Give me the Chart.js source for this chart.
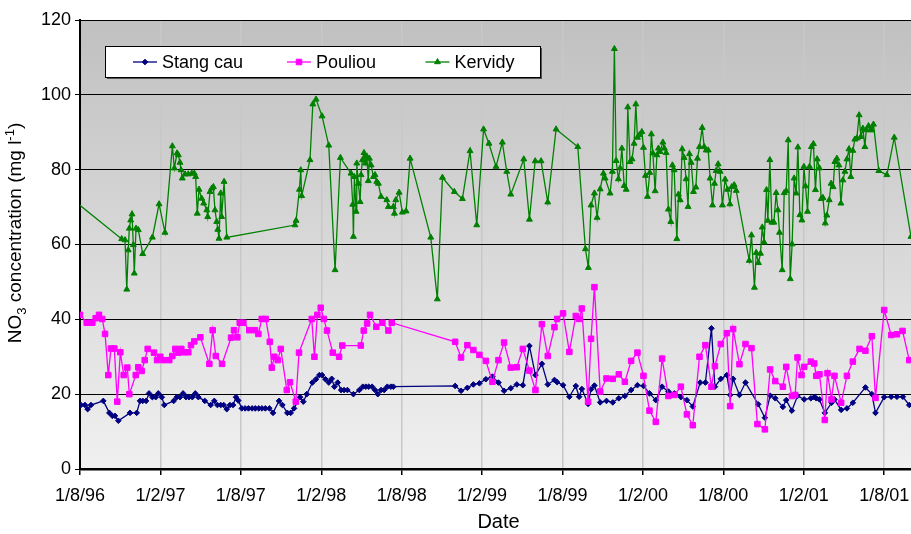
<!DOCTYPE html>
<html>
<head>
<meta charset="utf-8">
<title>NO3 concentration</title>
<script src="https://cdn.jsdelivr.net/npm/chart.js@4/dist/chart.umd.min.js"></script>
<style>
  html, body { margin: 0; padding: 0; background: #fff; }
  canvas { display: block; }
</style>
</head>
<body>
<canvas id="chart" width="911" height="534"></canvas>
<script>
// x values are months elapsed since 1 August 1996; y values are NO3 in mg/l
const tickMonths = [0, 6, 12, 18, 24, 30, 36, 42, 48, 54, 60];
const tickLabels = ['1/8/96', '1/2/97', '1/8/97', '1/2/98', '1/8/98', '1/2/99',
                    '1/8/99', '1/2/00', '1/8/00', '1/2/01', '1/8/01'];
const yTicks = { min: 0, max: 120, step: 20 };
const seriesNames = ['Stang cau', 'Pouliou', 'Kervidy'];
const xTitle = 'Date';

const stangCau = [
  [0.07,17.1],[0.37,17.1],[0.57,16.0],[0.82,17.1],[1.74,18.2],[2.19,15.0],[2.41,14.2],[2.61,14.2],
  [2.86,12.9],[3.73,15.0],[4.23,15.0],[4.48,18.2],[4.68,18.2],[4.93,18.2],[5.15,20.2],[5.40,19.2],
  [5.65,19.2],[5.84,20.2],[6.10,19.2],[6.29,17.1],[6.99,18.2],[7.22,19.2],[7.46,19.2],[7.69,20.2],
  [7.91,19.2],[8.13,19.2],[8.38,19.2],[8.60,20.2],[8.83,19.2],[9.31,18.2],[9.75,17.1],[10.02,18.2],
  [10.25,17.1],[10.50,17.1],[10.72,17.1],[10.95,16.0],[11.19,17.1],[11.42,17.1],[11.64,19.2],[11.81,18.3],
  [12.07,16.2],[12.32,16.2],[12.57,16.2],[12.84,16.2],[13.08,16.2],[13.34,16.2],[13.58,16.2],[13.83,16.2],
  [14.13,16.2],[14.40,15.0],[14.85,18.2],[15.10,17.1],[15.47,15.0],[15.72,15.0],[15.97,16.2],[16.42,19.2],
  [16.66,18.0],[16.92,20.0],[17.34,23.1],[17.61,24.0],[17.86,25.1],[18.06,25.1],[18.31,24.0],[18.56,23.1],
  [18.78,24.1],[18.98,22.0],[19.23,23.1],[19.48,21.1],[19.70,21.1],[19.95,21.1],[20.40,20.0],[20.84,21.1],
  [21.10,22.0],[21.32,22.0],[21.54,22.0],[21.79,22.0],[22.01,21.1],[22.22,20.0],[22.46,21.1],[22.69,21.1],
  [22.93,22.0],[23.19,22.0],[23.38,22.0],[27.99,22.2],[28.43,20.9],[28.90,21.7],[29.35,22.6],[29.80,22.9],
  [30.28,24.0],[30.77,24.7],[31.22,23.1],[31.64,20.9],[32.14,21.6],[32.59,22.6],[33.04,22.4],[33.53,32.9],
  [33.98,25.1],[34.46,28.1],[34.90,22.6],[35.40,23.8],[35.60,23.2],[36.04,22.4],[36.51,19.3],[36.99,22.2],
  [37.24,19.3],[37.44,21.4],[37.91,17.4],[38.13,21.3],[38.38,22.3],[38.81,17.8],[39.28,18.2],[39.75,17.8],
  [40.20,18.9],[40.65,19.5],[41.12,21.1],[41.59,22.4],[42.04,22.2],[42.49,20.2],[42.96,18.4],[43.43,22.0],
  [43.90,20.7],[44.35,20.2],[44.83,19.2],[45.28,18.4],[45.72,16.7],[46.27,23.1],[46.66,23.1],[47.11,37.6],
  [47.37,22.0],[47.81,24.1],[48.26,25.1],[48.51,19.8],[48.73,24.1],[49.20,19.8],[49.65,23.1],[50.60,17.3],
  [51.10,13.7],[51.49,19.6],[51.87,18.9],[52.44,16.6],[52.69,18.4],[53.11,15.6],[53.53,19.5],[54.03,18.6],
  [54.53,18.9],[54.78,19.2],[54.93,18.9],[55.17,18.6],[55.57,15.0],[56.07,17.7],[56.29,18.6],[56.79,15.8],
  [57.22,16.2],[57.66,17.7],[58.60,21.8],[59.08,20.0],[59.35,15.0],[60.00,19.2],[60.52,19.3],[60.95,19.3],
  [61.39,19.3],[61.87,17.1]
];

const pouliou = [
  [0.00,41.2],[0.50,39.1],[0.92,39.1],[1.17,40.3],[1.42,41.2],[1.66,40.1],[1.87,36.1],[2.11,25.1],
  [2.31,32.2],[2.56,32.2],[2.78,18.0],[3.01,31.2],[3.26,25.1],[3.53,27.1],[3.68,20.0],[4.16,25.1],
  [4.35,27.2],[4.60,26.2],[4.83,29.1],[5.05,32.1],[5.52,31.1],[5.75,29.1],[5.99,30.0],[6.22,29.1],
  [6.66,29.1],[6.89,30.2],[7.11,32.1],[7.34,31.1],[7.56,32.1],[7.78,31.2],[8.08,31.2],[8.28,33.1],
  [8.53,34.1],[8.98,35.2],[9.65,28.1],[9.90,37.1],[10.13,30.2],[10.60,28.1],[11.27,35.1],[11.49,37.1],
  [11.74,35.2],[11.92,39.1],[12.19,39.1],[12.63,37.1],[13.06,37.1],[13.31,36.1],[13.56,40.1],[13.86,40.1],
  [14.16,34.0],[14.31,27.1],[14.50,30.0],[14.75,29.1],[14.98,32.1],[15.43,21.1],[15.67,23.2],[16.10,18.0],
  [16.34,31.1],[17.29,40.1],[17.49,30.0],[17.71,41.2],[17.96,43.1],[18.19,40.1],[18.43,37.0],[18.86,31.1],
  [19.33,30.0],[19.57,33.0],[20.95,33.0],[21.17,37.0],[21.42,38.9],[21.64,41.2],[22.11,38.0],[22.56,39.1],
  [23.01,37.0],[23.26,39.1],[27.99,34.0],[28.43,29.8],[28.90,33.1],[29.35,31.8],[29.80,30.5],[30.28,28.9],
  [30.77,23.3],[31.22,29.1],[31.64,33.8],[32.14,27.1],[32.59,27.2],[33.04,32.1],[33.53,26.3],[33.98,21.1],
  [34.46,38.7],[34.90,30.2],[35.40,37.9],[35.60,40.1],[36.04,41.6],[36.51,31.3],[36.99,40.9],[37.24,40.1],
  [37.44,42.9],[37.91,18.0],[38.13,34.8],[38.38,48.6],[38.81,20.7],[39.28,24.2],[39.75,24.1],[40.20,25.3],
  [40.65,23.3],[41.12,28.9],[41.59,31.1],[42.04,24.9],[42.49,15.6],[42.96,12.6],[43.43,29.5],[43.90,19.5],
  [44.35,19.8],[44.83,22.0],[45.28,14.6],[45.72,11.7],[46.22,30.0],[46.66,33.1],[47.11,22.0],[47.37,27.5],
  [47.81,33.4],[48.26,36.3],[48.51,16.8],[48.73,37.4],[49.20,28.0],[49.65,33.4],[50.10,32.3],[50.54,12.0],
  [51.10,10.6],[51.49,26.6],[51.87,23.5],[52.44,22.0],[52.69,27.3],[53.11,19.5],[53.36,19.8],[53.53,29.8],
  [53.83,25.1],[54.03,27.3],[54.53,28.7],[54.78,28.2],[54.93,24.9],[55.17,25.3],[55.57,13.1],[55.77,25.6],
  [56.07,18.6],[56.29,24.9],[56.79,17.7],[57.22,24.9],[57.66,28.7],[58.16,32.1],[58.60,31.6],[59.08,35.5],
  [59.35,19.0],[60.00,42.5],[60.52,35.8],[60.95,36.0],[61.37,36.9],[61.87,29.1]
];

const kervidy = [
  [-0.5,71.9],[3.11,61.5],[3.36,61.2],[3.49,48.0],[3.60,58.5],[3.68,64.3],[3.78,66.5],[3.88,68.1],
  [3.98,59.9],[4.05,52.3],[4.18,64.3],[4.35,63.9],[4.68,57.5],[5.40,61.9],[5.90,70.8],[6.34,63.2],
  [6.89,86.3],[7.04,80.4],[7.24,84.4],[7.34,83.9],[7.46,81.9],[7.54,79.9],[7.63,77.7],[7.84,78.8],
  [8.08,78.8],[8.34,79.0],[8.53,79.0],[8.63,78.1],[8.75,68.3],[8.88,74.7],[9.08,72.3],[9.23,71.0],
  [9.46,69.2],[9.53,67.4],[9.70,74.1],[9.83,75.0],[9.95,75.4],[10.07,69.2],[10.20,66.1],[10.28,64.0],
  [10.37,61.6],[10.50,73.7],[10.57,67.4],[10.75,76.8],[10.95,61.9],
  [16.04,65.2],[16.12,66.4],[16.37,74.7],[16.47,79.9],[16.54,73.0],[17.16,82.6],[17.37,97.5],[17.61,98.8],
  [18.06,94.3],[18.56,86.5],[19.03,53.2],[19.43,83.2],[20.22,79.0],[20.35,70.7],[20.40,62.1],[20.47,78.1],
  [20.60,68.8],[20.65,81.7],[20.77,76.3],[20.90,71.4],[20.97,78.6],[21.07,82.6],[21.19,84.5],[21.29,81.7],
  [21.40,83.5],[21.51,77.0],[21.59,83.0],[21.72,81.2],[21.89,78.1],[22.01,78.6],[22.14,76.8],[22.26,76.3],
  [22.46,72.8],[22.89,71.9],[23.01,70.1],[23.38,70.1],[23.46,68.3],[23.56,71.9],[23.81,73.9],[24.05,68.6],
  [24.33,68.9],[24.63,83.0],
  [26.17,61.9],[26.66,45.4],[27.04,77.9],[27.93,74.1],[28.53,72.2],[29.10,85.0],[29.60,65.2],[30.11,90.8],
  [30.51,87.0],[31.04,80.8],[31.51,87.3],[31.84,79.5],[32.14,73.4],[33.11,82.8],[33.53,66.7],[33.96,82.3],
  [34.40,82.3],[34.90,71.3],[35.52,90.8],[37.14,86.1],[37.71,58.8],[37.93,53.8],[38.13,70.5],[38.38,73.7],
  [38.58,67.2],[38.81,74.8],[39.05,79.0],[39.18,77.7],[39.55,73.7],[39.72,79.5],[39.87,112.3],[40.00,82.4],
  [40.17,77.5],[40.30,80.4],[40.43,85.7],[40.60,75.7],[40.75,74.7],[40.87,96.7],[41.04,82.1],[41.19,82.8],
  [41.34,87.0],[41.47,97.5],[41.59,88.6],[41.74,89.3],[41.92,90.1],[42.04,85.9],[42.19,78.4],[42.34,72.8],
  [42.51,79.2],[42.63,89.5],[42.74,84.4],[42.91,74.3],[43.04,83.9],[43.16,85.7],[43.28,84.8],[43.49,87.3],
  [43.60,85.7],[43.73,84.5],[43.90,69.4],[44.08,66.1],[44.20,81.2],[44.33,79.9],[44.53,61.5],[44.65,73.4],
  [44.78,71.9],[44.93,85.5],[45.07,83.2],[45.22,77.5],[45.37,70.1],[45.47,84.2],[45.60,81.9],[45.77,74.1],
  [45.95,75.3],[46.07,83.0],[46.22,86.1],[46.42,91.2],[46.57,86.1],[46.72,85.2],[46.87,85.2],[47.01,77.7],
  [47.19,70.5],[47.34,76.3],[47.46,79.7],[47.61,81.5],[47.76,79.5],[47.93,70.5],[48.13,77.4],[48.31,74.7],
  [48.49,70.8],[48.63,75.4],[48.81,75.9],[48.96,74.4],
  [49.93,55.7],[50.10,62.5],[50.32,48.5],[50.45,57.8],[50.62,55.1],[50.77,57.6],[50.90,64.6],[51.04,60.6],
  [51.22,74.6],[51.32,66.4],[51.47,82.6],[51.62,65.9],[51.77,65.9],[51.94,73.8],[52.07,69.2],[52.19,63.2],
  [52.39,53.2],[52.54,73.8],[52.69,74.3],[52.84,87.9],[52.99,50.8],[53.13,60.1],[53.28,77.7],[53.43,73.7],
  [53.56,86.0],[53.71,67.9],[53.86,66.5],[54.01,80.8],[54.13,75.6],[54.28,68.8],[54.43,80.8],[54.57,86.1],
  [54.72,86.9],[54.87,74.6],[55.00,82.8],[55.17,80.4],[55.30,72.2],[55.43,72.5],[55.60,65.7],[55.72,67.8],
  [55.90,71.9],[56.04,76.3],[56.19,75.4],[56.32,82.1],[56.47,83.0],[56.62,81.2],[56.77,71.0],[56.92,77.2],
  [57.07,79.5],[57.22,82.8],[57.37,85.5],[57.51,78.1],[57.66,85.1],[57.81,88.1],[57.96,88.4],[58.13,94.6],
  [58.26,88.8],[58.41,91.0],[58.56,86.1],[58.66,90.6],[58.83,91.7],[58.96,90.6],[59.08,90.6],[59.20,92.1],
  [59.60,79.7],[60.20,78.6],[60.75,88.6],[62.00,62.1]
];

const FONT = "'Liberation Sans', Arial, Helvetica, sans-serif";
const xMax = 62;

function lineSeries(label, points, color, pointStyle, radius, order) {
  return {
    label,
    data: points.map(p => ({ x: p[0], y: p[1] })),
    borderColor: color,
    backgroundColor: color,
    borderWidth: 1.3,
    pointStyle,
    pointRadius: radius,
    pointBorderWidth: 1,
    pointBackgroundColor: color,
    pointBorderColor: color,
    tension: 0,
    fill: false,
    order
  };
}

// grey gradient behind the plotting area
const plotBackground = {
  id: 'plotBackground',
  beforeDraw(chart) {
    const { ctx, chartArea: a } = chart;
    const g = ctx.createLinearGradient(0, a.top, 0, a.bottom);
    g.addColorStop(0, '#c0c0c0');
    g.addColorStop(1, '#f0f0f0');
    ctx.save();
    ctx.fillStyle = g;
    ctx.fillRect(a.left, a.top, a.right - a.left, a.bottom - a.top);
    ctx.restore();
  }
};

// draws a row of text pieces with individual sizes and baseline shifts, centred on x
function drawRuns(ctx, runs, x, y) {
  let total = 0;
  runs.forEach(r => {
    ctx.font = r.size + 'px ' + FONT;
    r.w = ctx.measureText(r.text).width;
    total += r.w;
  });
  let cx = x - total / 2;
  runs.forEach(r => {
    ctx.font = r.size + 'px ' + FONT;
    ctx.fillText(r.text, cx, y + r.dy);
    cx += r.w;
  });
}

const yTitleRuns = [
  { text: 'NO', size: 19, dy: 0 },
  { text: '3', size: 13, dy: 5 },
  { text: ' concentration (mg l', size: 19, dy: 0 },
  { text: '-1', size: 13, dy: -7 },
  { text: ')', size: 19, dy: 0 }
];

// axis titles and the boxed legend inside the plot
const annotations = {
  id: 'annotations',
  afterDraw(chart) {
    const { ctx, chartArea: a } = chart;

    ctx.save();
    ctx.fillStyle = '#000';
    ctx.textAlign = 'left';
    ctx.textBaseline = 'alphabetic';
    ctx.translate(20.5, a.top + 213);
    ctx.rotate(-Math.PI / 2);
    drawRuns(ctx, yTitleRuns, 0, 0);
    ctx.restore();

    ctx.save();
    ctx.fillStyle = '#000';
    ctx.font = '20px ' + FONT;
    ctx.textAlign = 'center';
    ctx.textBaseline = 'middle';
    ctx.fillText(xTitle, (a.left + a.right) / 2 + 3, 522);
    ctx.restore();

    const bx = a.left + 25.5, by = a.top + 26.5, bw = 435, bh = 31;
    ctx.save();
    ctx.fillStyle = '#555';
    ctx.fillRect(bx + 1.5, by + 1.5, bw, bh);
    ctx.fillStyle = '#fff';
    ctx.fillRect(bx, by, bw, bh);
    ctx.strokeStyle = '#000';
    ctx.lineWidth = 1;
    ctx.strokeRect(bx, by, bw, bh);

    const cy = by + bh / 2;
    const starts = [27.5, 181.5, 320];
    chart.data.datasets.forEach((ds, i) => {
      const x0 = bx + starts[i];
      ctx.strokeStyle = ds.borderColor;
      ctx.lineWidth = ds.borderWidth;
      ctx.beginPath();
      ctx.moveTo(x0, cy);
      ctx.lineTo(x0 + 24, cy);
      ctx.stroke();
      ctx.fillStyle = ds.pointBackgroundColor;
      ctx.strokeStyle = ds.pointBorderColor;
      ctx.lineWidth = ds.pointBorderWidth;
      Chart.helpers.drawPoint(ctx, { pointStyle: ds.pointStyle, radius: ds.pointRadius, rotation: 0, borderWidth: ds.pointBorderWidth }, x0 + 12, cy);
      ctx.fillStyle = '#000';
      ctx.font = '18px ' + FONT;
      ctx.textAlign = 'left';
      ctx.textBaseline = 'middle';
      ctx.fillText(ds.label, x0 + 29, cy + 1);
    });
    ctx.restore();
  }
};

new Chart(document.getElementById('chart'), {
  type: 'line',
  data: {
    datasets: [
      lineSeries(seriesNames[0], stangCau, '#000080', 'rectRot', 2.8, 2),
      lineSeries(seriesNames[1], pouliou, '#ff00ff', 'rect', 3.9, 1),
      lineSeries(seriesNames[2], kervidy, '#008000', 'triangle', 3.4, 0)
    ]
  },
  options: {
    responsive: false,
    animation: false,
    devicePixelRatio: 1,
    layout: { autoPadding: false, padding: { top: 20, right: 0, bottom: 0, left: 0 } },
    plugins: { legend: { display: false }, tooltip: { enabled: false } },
    scales: {
      x: {
        type: 'linear',
        min: tickMonths[0],
        max: xMax,
        afterBuildTicks: s => { s.ticks = tickMonths.map(v => ({ value: v })); },
        afterFit: s => { s.height = 65; s.paddingLeft = 0; s.paddingRight = 0; },
        ticks: {
          autoSkip: false,
          maxRotation: 0,
          color: '#000',
          font: { family: FONT, size: 18 },
          padding: 10,
          callback: (v, i) => tickLabels[i]
        },
        grid: { color: '#c8c8c8', lineWidth: 1.5, tickColor: '#000', tickLength: 6, tickWidth: 1.5 },
        border: { color: '#000', width: 2.5 }
      },
      y: {
        min: yTicks.min,
        max: yTicks.max,
        afterFit: s => { s.width = 80; s.paddingTop = 0; s.paddingBottom = 0; },
        ticks: {
          stepSize: yTicks.step,
          color: '#000',
          font: { family: FONT, size: 18 },
          padding: 4
        },
        grid: { color: '#000', lineWidth: 1, tickColor: '#000', tickLength: 5 },
        border: { color: '#000', width: 2 }
      }
    }
  },
  plugins: [plotBackground, annotations]
});
</script>
</body>
</html>
